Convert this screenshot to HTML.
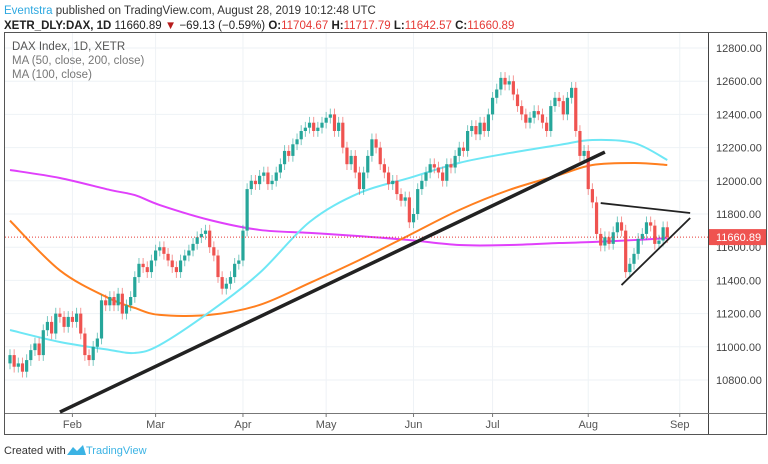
<!DOCTYPE html>
<html><head><meta charset="utf-8"><style>
body{margin:0;background:#fff;width:768px;height:464px;overflow:hidden;font-family:"Liberation Sans",sans-serif}
svg{position:absolute;left:0;top:0}
</style></head><body>
<svg width="768" height="464" font-family="Liberation Sans, sans-serif">
<text x="4" y="14" font-size="11.5" fill="#333"><tspan fill="#2ea8e0">Eventstra</tspan> published on TradingView.com, August 28, 2019 10:12:48 UTC</text>
<text x="4" y="29" font-size="11.5" fill="#222"><tspan font-weight="bold">XETR_DLY:DAX, 1D</tspan> 11660.89 <tspan fill="#b71c1c">▼</tspan> −69.13 (−0.59%) <tspan font-weight="bold">O:</tspan><tspan fill="#e53935">11704.67</tspan> <tspan font-weight="bold">H:</tspan><tspan fill="#e53935">11717.79</tspan> <tspan font-weight="bold">L:</tspan><tspan fill="#e53935">11642.57</tspan> <tspan font-weight="bold">C:</tspan><tspan fill="#e53935">11660.89</tspan></text>
<rect x="4.5" y="32.5" width="762" height="402" fill="none" stroke="#555"/>
<line x1="708.5" y1="33" x2="708.5" y2="434" stroke="#444"/>
<line x1="5" y1="413.5" x2="766" y2="413.5" stroke="#777"/>
<g id="grid"></g><g id="ma"></g><g id="candles"></g><g id="draw"></g><g id="axes"></g>
<text x="12" y="50" font-size="11.5" fill="#555">DAX Index, 1D, XETR</text>
<text x="12" y="64" font-size="11.5" fill="#777">MA (50, close, 200, close)</text>
<text x="12" y="78" font-size="11.5" fill="#777">MA (100, close)</text>
<text x="4" y="454" font-size="11" fill="#333">Created with</text>
<path d="M67 455 l6 -8 l4 4 l6 -6 l3 10 z" fill="#3bb3e4"/>
<text x="86" y="454" font-size="11" fill="#3bb3e4">TradingView</text>
</svg>
<script>
const closes=[10950,10880,10900,10850,10920,10980,11020,10950,11100,11150,11080,11200,11180,11120,11180,
11150,11200,11080,10950,10920,11000,11050,11280,11250,11300,11250,11320,11200,11250,11300,11420,11500,11480,11450,11520,
11580,11600,11560,11520,11480,11450,11520,11550,11580,11620,11660,11680,11700,11600,11550,11420,11350,11380,11420,11500,11520,
11700,11950,12000,11980,12030,12050,11980,12000,12050,12100,12180,12150,12220,12250,12300,12320,12350,12300,12320,12350,
12380,12400,12300,12350,12200,12100,12150,12050,11950,12050,12150,12250,12200,12100,12050,11980,12000,11920,11880,11900,11750,
11800,11950,12000,12050,12100,12080,12050,12000,12100,12080,12150,12200,12180,12300,12330,12280,12350,12300,12400,
12500,12550,12620,12580,12600,12520,12450,12400,12350,12380,12420,12400,12350,12300,12450,12500,12480,12400,12500,12560,12300,12150,12180,
11950,11870,11680,11610,11660,11620,11690,11750,11700,11450,11500,11560,11650,11680,11750,11730,11620,11640,11720,11660];
const firstOpen=10900;
const maIdx=[0,12,24,30,36,48,60,72,84,96,108,120,132,140,150,158];
const ma50=[11101,11029,10981,10963,11011,11210,11445,11752,11927,12017,12108,12167,12216,12246,12228,12125];
const ma200=[11760,11460,11290,11234,11192,11192,11252,11384,11523,11673,11824,11945,12035,12095,12107,12095];
const ma100=[12065,12017,11945,11914,11854,11764,11704,11686,11667,11643,11613,11613,11625,11631,11643,11655];
const priceTicks=[12800,12600,12400,12200,12000,11800,11600,11400,11200,11000,10800];
const monthLabels=["Feb","Mar","Apr","May","Jun","Jul","Aug","Sep"];
const monthIdx=[15,35,56,76,97,116,139,161];
const lastPrice=11660.89;
const trendLines=[[12,10607,143,12173],[142,11866,163.5,11806],[147,11372,163.5,11776]];
const NS="http://www.w3.org/2000/svg";
const X=i=>10+i*4.16, Y=v=>48+(12800-v)*0.166;
function mk(t,a,p){const e=document.createElementNS(NS,t);for(const k in a)e.setAttribute(k,a[k]);document.getElementById(p).appendChild(e);return e;}
function smooth(pts){let d='M'+pts[0][0]+','+pts[0][1];for(let i=0;i<pts.length-1;i++){const p0=pts[i-1]||pts[i],p1=pts[i],p2=pts[i+1],p3=pts[i+2]||p2;
d+=' C'+(p1[0]+(p2[0]-p0[0])/6)+','+(p1[1]+(p2[1]-p0[1])/6)+' '+(p2[0]-(p3[0]-p1[0])/6)+','+(p2[1]-(p3[1]-p1[1])/6)+' '+p2[0]+','+p2[1];}return d;}
priceTicks.forEach(v=>{const l=mk('line',{x1:5,x2:708,y1:Y(v),y2:Y(v),stroke:'#eef2f6'},'grid');


const t=mk('text',{x:716,y:Y(v)+4,'font-size':11,fill:'#444'},'axes');t.textContent=v.toFixed(2);

});
monthIdx.forEach((m,k)=>{const l=mk('line',{x1:X(m),x2:X(m),y1:33,y2:413,stroke:'#eef2f6'},'grid');


mk('line',{x1:X(m),x2:X(m),y1:413,y2:417,stroke:'#777'},'axes');
const t=mk('text',{x:X(m),y:428,'font-size':11,fill:'#555','text-anchor':'middle'},'axes');t.textContent=monthLabels[k];

});
[[ma100,'#e040fb','ma-100-line'],[ma200,'#ff7f1f','ma-200-line'],[ma50,'#6ee7f5','ma-50-line']].forEach(([s,c,n])=>{
const p=mk('path',{d:smooth(s.map((v,k)=>[X(maIdx[k]),Y(v)])),fill:'none',stroke:c,'stroke-width':2},'ma');

});
const pl=mk('line',{x1:5,x2:708,y1:Y(lastPrice),y2:Y(lastPrice),stroke:'#e53935','stroke-dasharray':'1,2'},'draw');


const pb=mk('rect',{x:709,y:Y(lastPrice)-8,width:57,height:16,fill:'#ef5350'},'axes');


const pt=mk('text',{x:716,y:Y(lastPrice)+4,'font-size':11,fill:'#fff'},'axes');pt.textContent=lastPrice.toFixed(2);


closes.forEach((c,i)=>{const o=i?closes[i-1]:firstOpen;const up=c>=o;const col=up?'#26a69a':'#ef5350';
const hi=Math.max(o,c)+35, lo=Math.min(o,c)-35;
const w=mk('line',{x1:X(i),x2:X(i),y1:Y(hi),y2:Y(lo),stroke:col,'stroke-width':1,opacity:.6},'candles');


const b=mk('rect',{x:X(i)-1.6,y:Y(Math.max(o,c)),width:3.2,height:Math.max(1,Math.abs(Y(o)-Y(c))),fill:col},'candles');

});
trendLines.forEach(([i1,v1,i2,v2],k)=>{const l=mk('line',{x1:X(i1),y1:Y(v1),x2:X(i2),y2:Y(v2),stroke:'#222','stroke-width':k?1.8:3.5},'draw');

});
</script>
</body></html>
